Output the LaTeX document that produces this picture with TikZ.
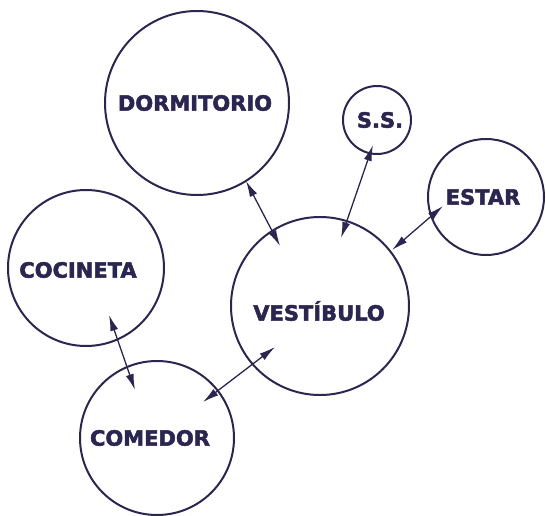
\documentclass[tikz,border=0pt]{standalone}
\usepackage{fontspec}
\setmainfont{DejaVu Sans}
\newfontfamily\heavyfont[FakeBold=2.4]{DejaVu Sans Bold}
\usetikzlibrary{arrows.meta}
\definecolor{ink}{HTML}{2B2650}
\tikzset{
  room/.style={circle,draw=ink,line width=2pt,inner sep=0pt},
  lbl/.style={text=ink,font=\heavyfont\fontsize{21}{24}\selectfont,inner sep=0pt},
  link/.style={draw=ink,line width=1.3pt,{Latex[length=16pt,width=8pt]}-{Latex[length=16pt,width=8pt]}}
}
\begin{document}
\begin{tikzpicture}[x=1pt,y=-1pt]
\useasboundingbox (0,0) rectangle (546,516);
\node[room,minimum size=184pt] (dorm) at (197,103) {};
\node[room,minimum size=68pt] (ss) at (377,120) {};
\node[room,minimum size=116pt] (estar) at (486,197) {};
\node[room,minimum size=156pt] (coc) at (86,268) {};
\node[room,minimum size=178pt] (vest) at (320,306) {};
\node[room,minimum size=154pt] (com) at (157,438) {};
\node[lbl] (tdorm) at (195,103) {DORMITORIO};
\node[lbl] (tss) at (380,120) {S.S.};
\node[lbl] (testar) at (483,197) {ESTAR};
\node[lbl] (tcoc) at (78,270) {COCINETA};
\node[lbl] (tvest) at (319,311) {VESTÍBULO};
\node[lbl] (tcom) at (150,438) {COMEDOR};
\coordinate (a1) at (246,181); \coordinate (b1) at (280,246);
\coordinate (a2) at (373,145); \coordinate (b2) at (341,238);
\coordinate (a3) at (443,206); \coordinate (b3) at (392,250);
\coordinate (a4) at (109,315); \coordinate (b4) at (135,390);
\coordinate (a5) at (275,347); \coordinate (b5) at (203,402);
\draw[link] (a1) -- (b1);
\draw[link] (a2) -- (b2);
\draw[link] (a3) -- (b3);
\draw[link] (a4) -- (b4);
\draw[link] (a5) -- (b5);
\end{tikzpicture}
\end{document}
